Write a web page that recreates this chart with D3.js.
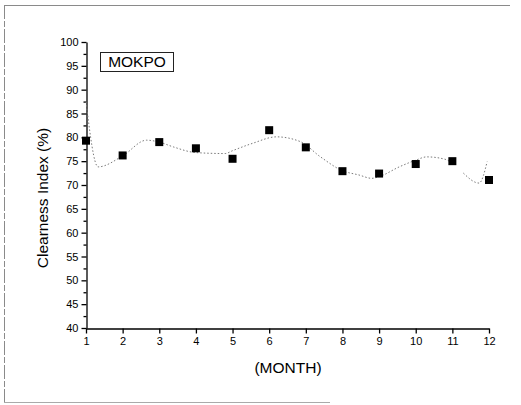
<!DOCTYPE html>
<html>
<head>
<meta charset="utf-8">
<script src="https://cdn.jsdelivr.net/npm/d3@7"></script>
<style>
  html, body { margin: 0; padding: 0; background: #fff; }
  svg { display: block; font-family: "Liberation Sans", Arial, Helvetica, sans-serif; }
</style>
</head>
<body>
<svg id="chart" width="521" height="405"></svg>
<script>
// Monthly clearness index at Mokpo (%)
const months = [1, 2, 3, 4, 5, 6, 7, 8, 9, 10, 11, 12];
const clearness = [79.3, 76.2, 79.0, 77.7, 75.5, 81.5, 77.9, 72.9, 72.4, 74.4, 75.0, 71.05];

// Smoothed fit curve (null marks a break in the trace)
const fitMonths = [1.0, 1.33, 2.0, 2.65, 3.0, 3.38, 4.0, 4.8, 5.0, 5.55, 6.2, 6.85, 7.4, 8.0, 8.45, 8.8, 9.0, 9.55, 10.0, 10.3, 10.8, 11.0, 11.15, 11.3, 11.73, 11.95];
const fitValues = [87.5, 73.8, 76.1, 79.4, 79.0, 78.0, 76.8, 76.6, 77.2, 78.75, 80.1, 79.1, 75.9, 73.0, 72.1, 71.4, 71.75, 73.8, 75.2, 75.9, 75.4, 74.55, null, 72.5, 70.4, 74.9];

const yTicks = [40, 45, 50, 55, 60, 65, 70, 75, 80, 85, 90, 95, 100];
const yMinorTicks = [42.5, 47.5, 52.5, 57.5, 62.5, 67.5, 72.5, 77.5, 82.5, 87.5, 92.5, 97.5];
const stationName = "MOKPO";
const xTitle = "(MONTH)";
const yTitle = "Clearness Index (%)";

const svg = d3.select("#chart");

// Page frame
const frame = svg.append("g").attr("stroke", "#8a8a8a").attr("stroke-width", 1).attr("fill", "none");
frame.append("line").attr("x1", 4).attr("x2", 510).attr("y1", 5.5).attr("y2", 5.5);
frame.append("line").attr("x1", 4.5).attr("x2", 4.5).attr("y1", 5).attr("y2", 402)
  .attr("stroke-dasharray", "14,2,6,2");
frame.append("line").attr("x1", 4).attr("x2", 330).attr("y1", 402.5).attr("y2", 402.5)
  .attr("stroke", "#aaa");

const x = d3.scaleLinear().domain([1, 12]).range([86, 489]);
const y = d3.scaleLinear().domain([40, 100]).range([328, 42]);

// Y axis: major ticks with labels, minor ticks between
const yAxis = svg.append("g").attr("transform", "translate(86.5,0)")
  .call(d3.axisLeft(y).tickValues(yTicks).tickSize(5).tickSizeOuter(0).tickPadding(3));
svg.append("g").attr("transform", "translate(86.5,0)")
  .call(d3.axisLeft(y).tickValues(yMinorTicks).tickSize(3).tickFormat(""))
  .call(g => g.select(".domain").remove());

// X axis
const xAxis = svg.append("g").attr("transform", "translate(0,328.5)")
  .call(d3.axisBottom(x).tickValues(months).tickSize(5).tickSizeOuter(0).tickPadding(4).tickFormat(d3.format("d")));

svg.selectAll(".tick text").attr("font-size", 11).attr("fill", "#000")
  .attr("font-family", "Liberation Sans, Arial, sans-serif");
svg.selectAll(".domain, .tick line").attr("stroke", "#000").attr("stroke-width", 1.3);

// Axis titles
svg.append("text").attr("x", 288).attr("y", 373).attr("text-anchor", "middle")
  .attr("font-size", 15.5).text(xTitle);
svg.append("text").attr("transform", "translate(48,198) rotate(-90)").attr("text-anchor", "middle")
  .attr("font-size", 15.5).text(yTitle);

// Fit curve
const fitData = fitMonths.map((m, i) => ({ m, v: fitValues[i] }));
const line = d3.line().defined(d => d.v !== null)
  .x(d => x(d.m)).y(d => y(d.v)).curve(d3.curveMonotoneX);
svg.append("path").datum(fitData).attr("d", line)
  .attr("fill", "none").attr("stroke", "#7a7a7a").attr("stroke-width", 1)
  .attr("stroke-dasharray", "1.5,2");

// Data markers
svg.append("g").selectAll("rect").data(months).join("rect")
  .attr("x", (d) => x(d) - 4).attr("y", (d, i) => y(clearness[i]) - 4)
  .attr("width", 8).attr("height", 8).attr("fill", "#000");

// Station label box
const lbl = svg.append("g");
lbl.append("rect").attr("x", 100.5).attr("y", 52.5).attr("width", 73).attr("height", 19)
  .attr("fill", "#fff").attr("stroke", "#222").attr("stroke-width", 1);
lbl.append("text").attr("x", 137).attr("y", 67).attr("text-anchor", "middle")
  .attr("font-size", 15.5).text(stationName);
</script>
</body>
</html>
